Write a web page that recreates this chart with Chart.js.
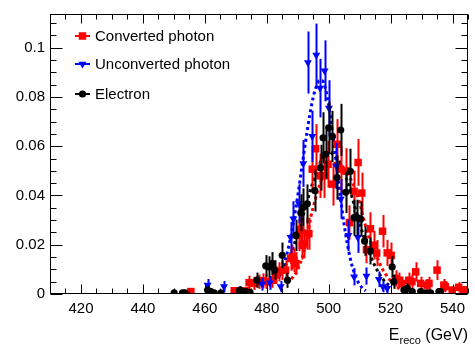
<!DOCTYPE html>
<html>
<head>
<meta charset="utf-8">
<script src="https://cdn.jsdelivr.net/npm/chart.js@4.4.0/dist/chart.umd.min.js"></script>
<style>
  html, body { margin: 0; padding: 0; background: #fff; }
  canvas { display: block; }
</style>
</head>
<body>
<canvas id="chart" width="475" height="350"></canvas>
<script>
// axis ticks
const xTicks = [420, 440, 460, 480, 500, 520, 540];
const yTicks = [0, 0.02, 0.04, 0.06, 0.08, 0.1];

// series labels
const seriesLabels = ['Converted photon', 'Unconverted photon', 'Electron'];

// points: [E (GeV), value, error]
const convertedPts = [
  [455.5, 0.001, 0.0013], [469.5, 0.0013, 0.0015], [470.5, 0.001, 0.0013], [473.2, 0.0013, 0.0015],
  [474.3, 0.0046, 0.0028], [475.9, 0.0043, 0.0027], [477.5, 0.005, 0.0029], [478.7, 0.0054, 0.003],
  [479.7, 0.005, 0.0029], [481.8, 0.0056, 0.0031], [482.9, 0.0077, 0.0036], [484.0, 0.009, 0.0039],
  [485.0, 0.0097, 0.004], [486.1, 0.0097, 0.004], [487.7, 0.0144, 0.005], [488.3, 0.015, 0.005],
  [488.8, 0.0137, 0.0048], [489.4, 0.0124, 0.0046], [490.4, 0.0238, 0.0064], [491.0, 0.026, 0.0066],
  [491.5, 0.0198, 0.0058], [492.0, 0.0204, 0.0059], [493.1, 0.0245, 0.0065], [493.6, 0.0245, 0.0065],
  [494.7, 0.0507, 0.0093], [495.8, 0.059, 0.01], [497.2, 0.048, 0.009], [498.5, 0.048, 0.009],
  [499.8, 0.0527, 0.0095], [501.3, 0.0446, 0.0087], [502.8, 0.0608, 0.0102], [503.9, 0.0507, 0.0093],
  [505.5, 0.050, 0.0092], [506.7, 0.029, 0.007], [508.2, 0.0417, 0.0084], [509.5, 0.0534, 0.0095],
  [510.7, 0.041, 0.0083], [512.2, 0.018, 0.0055], [513.5, 0.0265, 0.0067], [514.6, 0.0198, 0.0058],
  [515.5, 0.0166, 0.0053], [517.4, 0.0255, 0.0066], [518.9, 0.0167, 0.0053], [520.2, 0.0157, 0.0052],
  [521.6, 0.0063, 0.0033], [522.7, 0.0056, 0.0031], [523.7, 0.0043, 0.0027], [525.9, 0.0056, 0.0031],
  [526.9, 0.005, 0.0029], [528.1, 0.009, 0.0039], [529.7, 0.0043, 0.0027], [531.8, 0.0036, 0.0025],
  [532.4, 0.0043, 0.0027], [535.0, 0.0097, 0.004], [537.2, 0.0036, 0.0025], [537.7, 0.003, 0.0023],
  [539.9, 0.0016, 0.0016], [542.0, 0.0027, 0.0021], [543.6, 0.0016, 0.0016], [544.7, 0.0016, 0.0016]
];
const unconvertedPts = [
  [460.9, 0.0036, 0.0025], [466.2, 0.003, 0.0023], [478.5, 0.004, 0.0026], [481.0, 0.0045, 0.0028],
  [484.5, 0.003, 0.0023], [487.7, 0.023, 0.0063], [488.6, 0.0305, 0.0072], [490.4, 0.0367, 0.0079],
  [491.8, 0.053, 0.0095], [493.3, 0.094, 0.0126], [494.7, 0.064, 0.0104], [496.0, 0.097, 0.0128],
  [497.2, 0.0836, 0.0119], [498.7, 0.0906, 0.0124], [500.1, 0.0755, 0.0113], [502.5, 0.052, 0.0094],
  [503.9, 0.0386, 0.0081], [506.4, 0.0238, 0.0064], [508.2, 0.007, 0.0035], [509.4, 0.023, 0.0063],
  [512.2, 0.0073, 0.0035], [516.2, 0.006, 0.0032], [517.5, 0.003, 0.0023], [518.9, 0.0023, 0.002]
];
const electronPts = [
  [450.1, 0.0005, 0.0009], [452.8, 0.0005, 0.0009], [453.6, 0.0005, 0.0009], [460.9, 0.0016, 0.0016],
  [461.9, 0.001, 0.0013], [463.0, 0.0005, 0.0009], [465.2, 0.0005, 0.0009], [471.4, 0.0016, 0.0016],
  [473.2, 0.001, 0.0013], [474.6, 0.0007, 0.0011], [476.8, 0.0056, 0.0031], [479.7, 0.0114, 0.0044],
  [480.8, 0.011, 0.0043], [481.8, 0.0124, 0.0046], [482.6, 0.0097, 0.004], [485.0, 0.0157, 0.0052],
  [486.7, 0.0056, 0.0031], [489.4, 0.0238, 0.0064], [491.0, 0.033, 0.0075], [491.8, 0.0352, 0.0077],
  [493.1, 0.0366, 0.0079], [495.5, 0.042, 0.0085], [497.4, 0.0513, 0.0093], [498.2, 0.0634, 0.0104],
  [499.0, 0.0567, 0.0098], [500.0, 0.0675, 0.0107], [501.2, 0.064, 0.0104], [502.7, 0.0473, 0.009],
  [503.9, 0.0666, 0.0106], [505.5, 0.0413, 0.0084], [507.0, 0.0498, 0.0092], [508.2, 0.031, 0.0073],
  [509.2, 0.031, 0.0073], [510.3, 0.0305, 0.0072], [511.6, 0.0215, 0.006], [513.5, 0.0175, 0.0055],
  [520.5, 0.011, 0.0043], [521.0, 0.005, 0.0029], [524.3, 0.0016, 0.0016], [525.4, 0.0023, 0.002],
  [527.0, 0.001, 0.0013], [529.7, 0.001, 0.0013], [531.3, 0.0005, 0.0009], [532.9, 0.0005, 0.0009],
  [535.6, 0.001, 0.0013], [536.1, 0.001, 0.0013]
];

// fitted curves: [E, value]
const convertedFit = [
  [488, 0.006], [490, 0.010], [491.5, 0.015], [492.6, 0.020], [494.2, 0.031], [495.3, 0.0366],
  [497, 0.044], [499, 0.050], [501, 0.053], [503, 0.053], [505, 0.051], [507, 0.047],
  [509, 0.041], [510, 0.037], [511.4, 0.030], [513, 0.023], [515.2, 0.0164], [517, 0.011],
  [519, 0.007], [521, 0.004], [523, 0.002]
];
const unconvertedFit = [
  [484, 0.0069], [485, 0.0099], [486, 0.0138], [487, 0.0188], [488, 0.0249], [489, 0.032],
  [490, 0.0398], [491, 0.0484], [492, 0.0572], [493, 0.0657], [494, 0.0734], [495, 0.0798],
  [496, 0.0843], [497, 0.0867], [498, 0.0866], [499, 0.0832], [500, 0.0768], [501, 0.0681],
  [502, 0.058], [503, 0.0475], [504, 0.0373], [505, 0.0282], [506, 0.0205], [507, 0.0143],
  [508, 0.0096], [509, 0.0062], [510, 0.0038], [511, 0.0023], [512, 0.0013]
];
const electronFit = [
  [486, 0.0113], [488, 0.0171], [490, 0.0245], [492, 0.033], [494, 0.0417], [496, 0.0495],
  [498, 0.0552], [500, 0.0578], [502, 0.056], [504, 0.0527], [506, 0.0458], [508, 0.0374],
  [510, 0.0287], [512, 0.0207], [514, 0.014], [516, 0.0089], [518, 0.0053], [520, 0.003]
];

const RED = '#ff0000', BLUE = '#0000ff', BLACK = '#000000';
const FONT = 'Liberation Sans, Arial, Helvetica, sans-serif';

const toXY = arr => arr.map(p => ({ x: p[0], y: p[1] }));

function pointSet(label, pts, color, style, radius, rotation, order) {
  return {
    label: label,
    data: toXY(pts),
    errors: pts.map(p => p[2]),
    backgroundColor: color,
    borderColor: color,
    borderWidth: 0,
    pointStyle: style,
    pointRadius: radius,
    rotation: rotation,
    showLine: false,
    order: order
  };
}

function fitLine(pts, color, order) {
  return {
    type: 'line',
    data: toXY(pts),
    borderColor: color,
    borderWidth: 3,
    borderDash: [3, 3],
    pointRadius: 0,
    fill: false,
    cubicInterpolationMode: 'monotone',
    order: order
  };
}

// 误差棒 + ROOT 风格边框
const rootStyle = {
  id: 'rootStyle',
  beforeDatasetDraw(chart, args) {
    const ds = chart.data.datasets[args.index];
    if (!ds.errors) return;
    const { ctx, chartArea: a, scales: { x, y } } = chart;
    ctx.save();
    ctx.beginPath();
    ctx.rect(a.left, a.top, a.right - a.left, a.bottom - a.top);
    ctx.clip();
    ctx.strokeStyle = ds.borderColor;
    ctx.lineWidth = 2;
    ds.data.forEach((p, i) => {
      const px = Math.round(x.getPixelForValue(p.x)) + 0.5;
      ctx.beginPath();
      ctx.moveTo(px, y.getPixelForValue(p.y - ds.errors[i]));
      ctx.lineTo(px, y.getPixelForValue(p.y + ds.errors[i]));
      ctx.stroke();
    });
    ctx.restore();
  },
  afterDraw(chart) {
    const { ctx, chartArea: a, scales: { x, y } } = chart;
    ctx.save();
    ctx.strokeStyle = '#000';
    ctx.lineWidth = 1;
    const L = a.left + 0.5, R = Math.round(a.right) - 0.5, T = a.top + 0.5, B = a.bottom - 0.5;
    ctx.strokeRect(L, T, R - L, B - T);
    ctx.beginPath();
    // x ticks, every 5 GeV, major every 20
    for (let e = 410; e <= 545; e += 5) {
      const px = Math.round(x.getPixelForValue(e)) + 0.5;
      const len = e % 20 === 0 ? 9 : 5;
      ctx.moveTo(px, B); ctx.lineTo(px, B - len);
      ctx.moveTo(px, T); ctx.lineTo(px, T + len);
    }
    // y ticks, every 0.005, major every 0.02
    for (let k = 0; k * 0.005 <= y.max; k++) {
      const py = Math.round(y.getPixelForValue(k * 0.005)) + 0.5;
      const len = k % 4 === 0 ? 12 : 6;
      ctx.moveTo(L, py); ctx.lineTo(L + len, py);
      ctx.moveTo(R, py); ctx.lineTo(R - len, py);
    }
    ctx.stroke();

    // legend
    const rows = [
      { ds: chart.data.datasets[0], y: 36 },
      { ds: chart.data.datasets[1], y: 64 },
      { ds: chart.data.datasets[2], y: 94 }
    ];
    ctx.font = '15px ' + FONT;
    ctx.textBaseline = 'middle';
    ctx.textAlign = 'left';
    rows.forEach(r => {
      ctx.strokeStyle = r.ds.borderColor;
      ctx.fillStyle = r.ds.backgroundColor;
      ctx.lineWidth = 2;
      ctx.beginPath();
      ctx.moveTo(75, r.y); ctx.lineTo(90, r.y);
      ctx.stroke();
      Chart.helpers.drawPoint(ctx, { pointStyle: r.ds.pointStyle, radius: r.ds.pointRadius, rotation: r.ds.rotation, borderWidth: 0 }, 82.5, r.y);
      ctx.fillStyle = '#000';
      ctx.fillText(r.ds.label, 95, r.y + 1);
    });

    // x axis title: E_reco (GeV)
    ctx.fillStyle = '#000';
    ctx.textBaseline = 'alphabetic';
    ctx.font = '16px ' + FONT;
    const tail = ' (GeV)';
    const wTail = ctx.measureText(tail).width;
    const wE = ctx.measureText('E').width;
    ctx.font = '11px ' + FONT;
    const wSub = ctx.measureText('reco').width;
    let xs = 468 - wTail - wSub - wE;
    ctx.font = '16px ' + FONT;
    ctx.fillText('E', xs, 340);
    ctx.font = '11px ' + FONT;
    ctx.fillText('reco', xs + wE, 344);
    ctx.font = '16px ' + FONT;
    ctx.fillText(tail, xs + wE + wSub, 340);
    ctx.restore();
  }
};

new Chart(document.getElementById('chart'), {
  type: 'scatter',
  data: {
    datasets: [
      pointSet(seriesLabels[0], convertedPts, RED, 'rect', 5.3, 0, 3),
      pointSet(seriesLabels[1], unconvertedPts, BLUE, 'triangle', 4.6, 180, 2),
      pointSet(seriesLabels[2], electronPts, BLACK, 'circle', 3.6, 0, 1),
      fitLine(convertedFit, RED, 6),
      fitLine(unconvertedFit, BLUE, 5),
      fitLine(electronFit, BLACK, 4)
    ]
  },
  options: {
    responsive: false,
    animation: false,
    layout: { padding: { top: 12, right: 7, left: 0, bottom: 0 } },
    plugins: { legend: { display: false }, tooltip: { enabled: false } },
    scales: {
      x: {
        type: 'linear',
        min: 410,
        max: 545,
        grid: { display: false, drawTicks: false },
        border: { display: false },
        ticks: { color: '#000', font: { family: FONT, size: 15 }, padding: 6, maxRotation: 0, autoSkip: false },
        afterBuildTicks: s => { s.ticks = xTicks.map(v => ({ value: v })); },
        afterFit: s => { s.height = 56; }
      },
      y: {
        type: 'linear',
        min: 0,
        max: 0.1137,
        grid: { display: false, drawTicks: false },
        border: { display: false },
        ticks: {
          color: '#000', font: { family: FONT, size: 15 }, padding: 5, autoSkip: false,
          callback: v => String(+v.toFixed(2))
        },
        afterBuildTicks: s => { s.ticks = yTicks.map(v => ({ value: v })); },
        afterFit: s => { s.width = 50; }
      }
    }
  },
  plugins: [rootStyle]
});
</script>
</body>
</html>
